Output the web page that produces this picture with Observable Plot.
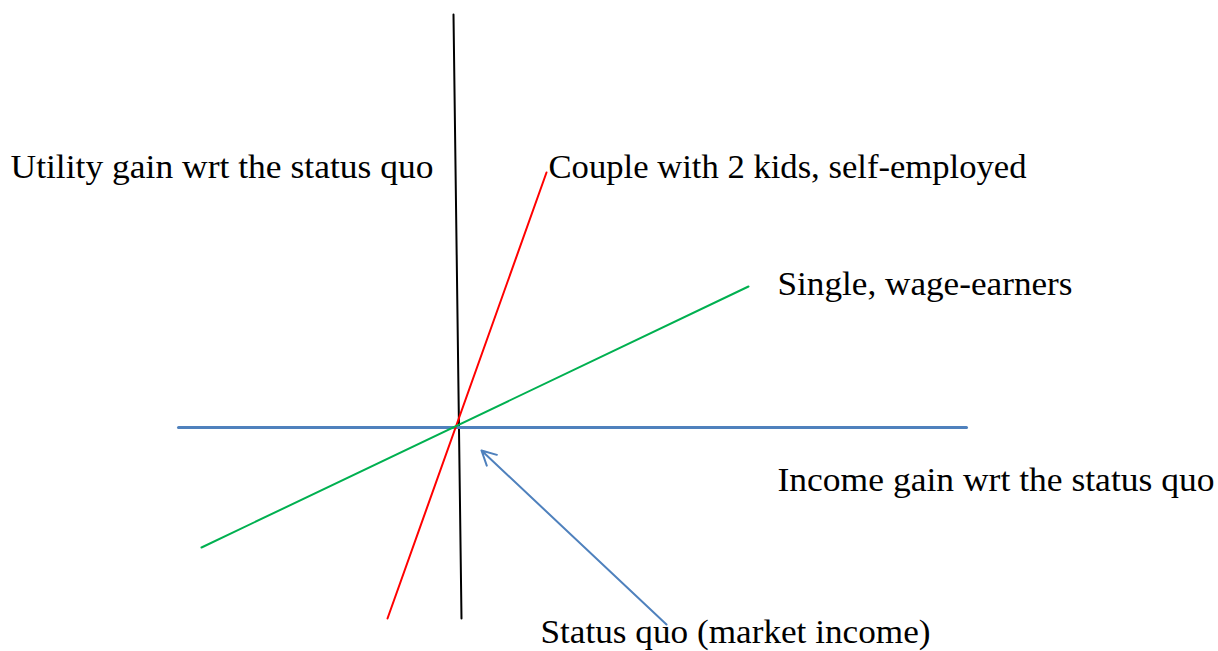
<!DOCTYPE html>
<html>
<head>
<meta charset="utf-8">
<script src="https://cdn.jsdelivr.net/npm/d3@7"></script>
<script src="https://cdn.jsdelivr.net/npm/@observablehq/plot@0.6"></script>
<style>
  html, body { margin: 0; padding: 0; background: #fff; }
  #chart svg { display: block; }
</style>
</head>
<body>
<div id="chart"></div>
<script>
// Schematic values (income gain on x, utility gain on y; status quo at origin)
const utilityAxis = [ {x: -0.03, y: 4.13}, {x: 0.05, y: -1.91} ];
const incomeAxis  = [ {x: -2.78, y: 0}, {x: 5.10, y: 0} ];
const coupleLine  = [ {x: -0.69, y: -1.91}, {x: 0.90, y: 2.55} ];
const singleLine  = [ {x: -2.55, y: -1.20}, {x: 2.92, y: 1.41} ];
const statusArrow = [ {x1: 2.10, y1: -1.97, x2: 0.25, y2: -0.23} ];

const labelText = [
  "Utility gain wrt the status quo",
  "Couple with 2 kids, self-employed",
  "Single, wage-earners",
  "Income gain wrt the status quo",
  "Status quo (market income)"
];
const labelX = [-4.46, 0.92, 3.21, 3.21, 0.84];
const labelY = [2.50, 2.50, 1.33, -0.63, -2.155];
const labels = labelText.map((t, i) => ({text: t, x: labelX[i], y: labelY[i]}));
// rendered label widths in the reference (pixels)
const labelWidth = [423, 478, 295, 437, 390];

const chart = Plot.plot({
  width: 1218,
  height: 651,
  margin: 0,
  x: {domain: [-4.56, 7.62], axis: null},
  y: {domain: [-2.24, 4.27], axis: null},
  style: {background: "#fff"},
  marks: [
    Plot.line(utilityAxis, {x: "x", y: "y", stroke: "#000", strokeWidth: 2}),
    Plot.line(incomeAxis, {x: "x", y: "y", stroke: "#4F81BD", strokeWidth: 3}),
    Plot.line(coupleLine, {x: "x", y: "y", stroke: "#FF0000", strokeWidth: 2}),
    Plot.line(singleLine, {x: "x", y: "y", stroke: "#00B050", strokeWidth: 2}),
    Plot.arrow(statusArrow, {x1: "x1", y1: "y1", x2: "x2", y2: "y2", stroke: "#4F81BD", strokeWidth: 2, headLength: 12, headAngle: 55}),
    Plot.text(labels, {x: "x", y: "y", text: "text", textAnchor: "start", lineAnchor: "bottom",
      fontSize: 34, fontFamily: "Liberation Serif", fill: "#000"})
  ]
});
document.getElementById("chart").appendChild(chart);
d3.select(chart).selectAll("text").each(function(d, i) {
  const t = this.textContent;
  const k = labelText.indexOf(t);
  if (k >= 0) {
    d3.select(this).attr("textLength", labelWidth[k]).attr("lengthAdjust", "spacingAndGlyphs");
  }
});
</script>
</body>
</html>
